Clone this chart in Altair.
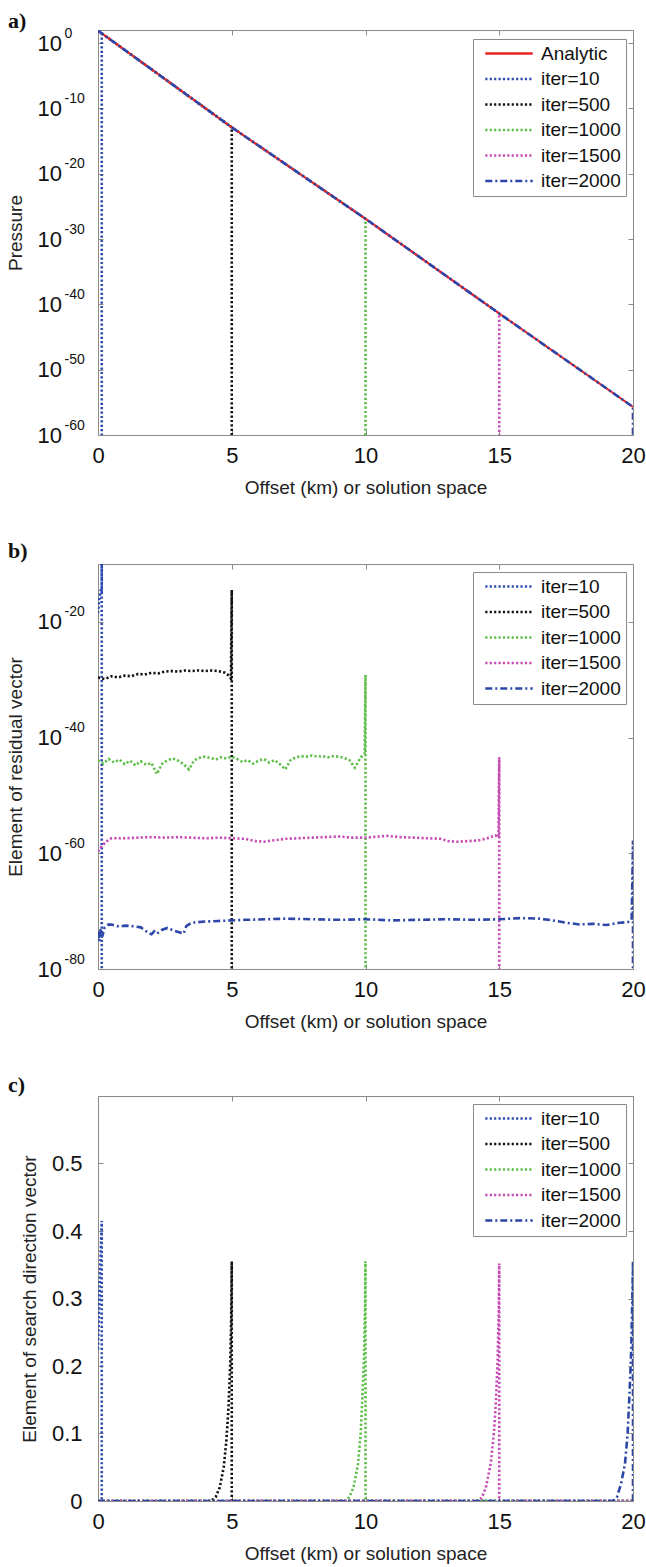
import altair as alt
import pandas as pd

FONT = "Liberation Sans"
SERIF = "Liberation Serif"

# ---------------- series styling ----------------
SERIES = ["Analytic", "iter=10", "iter=500", "iter=1000", "iter=1500", "iter=2000"]
COLORS = ["#E8231F", "#2E4BB0", "#111111", "#5CBF47", "#C64BB5", "#2C47A8"]
DASHES = [[1, 0], [2.2, 2.2], [2.2, 2.2], [2.2, 2.2], [2.2, 2.2], [7, 3, 2, 3]]
WIDTHS = [2.0, 2.6, 2.6, 2.6, 2.6, 2.6]

X_TICKS = [0, 5, 10, 15, 20]

# ---------------- panel a (log10 of pressure) ----------------
A_X = {
    "Analytic":  [0, 5, 10, 15, 20],
    "iter=10":   [0, 0.14, 0.14],
    "iter=500":  [0, 5, 5],
    "iter=1000": [0, 5, 10, 10],
    "iter=1500": [0, 5, 10, 15, 15],
    "iter=2000": [0, 5, 10, 15, 20, 20],
}
A_LOG = {
    "Analytic":  [1.9, -12.9, -26.9, -41.4, -55.7],
    "iter=10":   [1.9, 1.5, -90],
    "iter=500":  [1.9, -12.9, -90],
    "iter=1000": [1.9, -12.9, -26.9, -90],
    "iter=1500": [1.9, -12.9, -26.9, -41.4, -90],
    "iter=2000": [1.9, -12.9, -26.9, -41.4, -55.7, -90],
}
A_TICKS = [0, -10, -20, -30, -40, -50, -60]
A_DOMAIN = [-60, 2]

# ---------------- panel b (log10 of residual) ----------------
B_X = {
    "iter=10": [0, 0.05, 0.1, 0.14, 0.14, 0.14],
    "iter=500": [0, 0.25, 0.5, 0.75, 1.0, 1.25, 1.5, 1.75, 2.0, 2.25, 2.5, 2.75, 3.0, 3.25,
                 3.5, 3.75, 4.0, 4.25, 4.5, 4.75, 4.9, 4.97, 5.0, 5.0],
    "iter=1000": [0, 0.2, 0.4, 0.6, 0.8, 1.0, 1.2, 1.4, 1.6, 1.8, 2.0, 2.2, 2.4, 2.6, 2.8,
                  3.0, 3.2, 3.4, 3.6, 3.8, 4.0, 4.2, 4.4, 4.6, 4.8, 5.0, 5.2, 5.4, 5.6, 5.8,
                  6.0, 6.2, 6.4, 6.6, 6.8, 7.0, 7.2, 7.4, 7.6, 7.8, 8.0, 8.2, 8.4, 8.6, 8.8,
                  9.0, 9.2, 9.4, 9.6, 9.8, 9.9, 9.97, 10.0, 10.0],
    "iter=1500": [0, 0.1, 0.3, 0.5, 1.0, 1.5, 2.0, 2.5, 3.0, 3.5, 4.0, 4.5, 5.0, 5.5, 5.9, 6.2,
                  6.5, 7.0, 7.5, 8.0, 8.5, 9.0, 9.5, 10.0, 10.5, 10.8, 11.3, 11.8, 12.3, 12.8,
                  13.1, 13.4, 13.8, 14.2, 14.5, 14.85, 14.97, 15.0, 15.0],
    "iter=2000": [0, 0.05, 0.1, 0.15, 0.25, 0.4, 0.6, 0.8, 1.0, 1.3, 1.6, 1.9, 2.0, 2.1, 2.2,
                  2.4, 2.6, 2.8, 3.0, 3.2, 3.3, 3.5, 4.0, 4.5, 5.0, 5.5, 6.0, 7.0, 8.0, 9.0,
                  10.0, 11.0, 12.0, 13.0, 14.0, 15.0, 15.8, 16.5, 17.0, 17.5, 18.0, 18.5, 19.0,
                  19.5, 19.8, 19.95, 20.0, 20.0],
}
B_LOG = {
    "iter=10": [-18.5, -16.0, -14.6, -14.6, -5, -90],
    "iter=500": [-29.6, -29.9, -29.4, -29.6, -29.3, -29.4, -29.0, -29.1, -28.8, -28.9, -28.6,
                 -28.5, -28.6, -28.4, -28.5, -28.4, -28.5, -28.4, -28.5, -28.8, -29.3, -29.8,
                 -14.5, -90],
    "iter=1000": [-43.9, -44.5, -43.7, -44.3, -43.8, -44.6, -44.0, -44.8, -44.1, -44.7, -44.4,
                  -46.3, -44.5, -43.9, -43.6, -44.0, -44.6, -45.5, -43.9, -43.5, -43.3, -43.5,
                  -43.8, -43.4, -43.6, -43.3, -43.7, -44.2, -43.9, -44.5, -44.0, -43.7, -44.3,
                  -43.9, -44.6, -45.5, -43.9, -43.4, -43.2, -43.3, -43.1, -43.3, -43.2, -43.4,
                  -43.2, -43.3, -43.5, -43.9, -45.2, -43.6, -43.0, -42.7, -29.2, -90],
    "iter=1500": [-59.7, -59.0, -58.0, -57.4, -57.4, -57.3, -57.2, -57.3, -57.2, -57.3, -57.4,
                  -57.3, -57.4, -57.5, -57.9, -58.0, -57.8, -57.5, -57.4, -57.3, -57.2, -57.1,
                  -57.3, -57.3, -57.1, -57.0, -57.2, -57.3, -57.4, -57.5, -57.9, -58.0, -57.9,
                  -57.8, -57.5, -56.9, -57.2, -43.4, -90],
    "iter=2000": [-73.5, -75.2, -73.0, -74.5, -72.8, -72.3, -72.4, -72.7, -72.5, -72.6, -72.8,
                  -73.8, -74.0, -73.5, -73.9, -73.2, -72.9, -73.3, -73.6, -73.9, -72.6, -72.0,
                  -71.8, -71.7, -71.6, -71.5, -71.45, -71.3, -71.4, -71.5, -71.4, -71.6, -71.5,
                  -71.4, -71.5, -71.4, -71.2, -71.3, -71.6, -72.0, -72.3, -72.2, -72.4, -72.0,
                  -71.9, -71.5, -57.8, -90],
}
B_TICKS = [-20, -40, -60, -80]
B_DOMAIN = [-80, -10]

# ---------------- panel c (search direction, linear) ----------------
C_X = {
    "iter=10": [0, 0.07, 0.14, 0.14, 20],
    "iter=500": [0, 4.23, 4.4, 4.55, 4.7, 4.8, 4.88, 4.94, 4.98, 5.0, 5.0, 20],
    "iter=1000": [0, 9.25, 9.4, 9.55, 9.72, 9.82, 9.88, 9.94, 9.98, 10.0, 10.0, 20],
    "iter=1500": [0, 14.2, 14.35, 14.5, 14.68, 14.8, 14.88, 14.94, 14.98, 15.0, 15.0, 20],
    "iter=2000": [0, 19.24, 19.4, 19.55, 19.7, 19.8, 19.87, 19.93, 19.97, 20.0, 20.0],
}
C_Y = {
    "iter=10": [0.225, 0.33, 0.415, 0, 0],
    "iter=500": [0, 0, 0.006, 0.02, 0.05, 0.09, 0.14, 0.2, 0.27, 0.355, 0, 0],
    "iter=1000": [0, 0, 0.006, 0.02, 0.055, 0.1, 0.15, 0.21, 0.28, 0.355, 0, 0],
    "iter=1500": [0, 0, 0.005, 0.02, 0.055, 0.1, 0.15, 0.21, 0.28, 0.352, 0, 0],
    "iter=2000": [0, 0, 0.006, 0.025, 0.055, 0.1, 0.16, 0.22, 0.29, 0.355, 0],
}
C_TICKS = [0, 0.1, 0.2, 0.3, 0.4, 0.5]
C_DOMAIN = [0, 0.6]

PANEL_LABELS = ["a)", "b)", "c)"]
Y_TITLES = ["Pressure", "Element of residual vector", "Element of search direction vector"]
X_TITLE = "Offset (km) or solution space"

W, H = 535, 405


def frame(xd, yd, logy):
    rows = []
    for s in xd:
        for i, (x, y) in enumerate(zip(xd[s], yd[s])):
            rows.append({"series": s, "x": x, "y": (10.0 ** y) if logy else y, "i": i})
    return pd.DataFrame(rows)


def panel(df, names, logy, ydom, yticks, ytitle, label, label_dy, legend_y):
    idx = [SERIES.index(n) for n in names]
    colors = [COLORS[k] for k in idx]
    dashes = [DASHES[k] for k in idx]
    xs = alt.Scale(domain=[0, 20], nice=False, zero=False)
    if logy:
        ys = alt.Scale(type="log", domain=[10.0 ** ydom[0], 10.0 ** ydom[1]], nice=False)
        tick_vals = [10.0 ** e for e in yticks]
        lab_expr = "'10'"
        lab_align, lab_pad = "left", 61
        ext = [10.0 ** ydom[0], 10.0 ** ydom[1]]
    else:
        ys = alt.Scale(domain=ydom, nice=False, zero=False)
        tick_vals = yticks
        lab_expr = "datum.value == 0 ? '0' : format(datum.value, '.1f')"
        lab_align, lab_pad = "right", 16
        ext = ydom

    leg = alt.Legend(
        title=None, orient="none", legendX=375, legendY=legend_y,
        symbolType="stroke", symbolSize=2250, symbolStrokeWidth=2.5,
        labelFont=FONT, labelFontSize=19, labelColor="#111",
        strokeColor="#8a8a8a", fillColor="white", padding=5,
        rowPadding=5.5, labelOffset=7, symbolOffset=6, clipHeight=19,
    )

    ax_df = pd.DataFrame({"x": [0, 20], "y": ext})
    main_axes = alt.Chart(ax_df).mark_point(opacity=0, size=1).encode(
        x=alt.X("x:Q", scale=xs, axis=alt.Axis(
            values=X_TICKS, format="d", title=X_TITLE, labelFlush=False,
            offset=-5, tickSize=5, domain=False, grid=False,
            labelPadding=10, titlePadding=12)),
        y=alt.Y("y:Q", scale=ys, axis=alt.Axis(
            values=tick_vals, labelExpr=lab_expr, title=ytitle, labelFlush=False,
            offset=-5, tickSize=5, domain=False, grid=False,
            labelAlign=lab_align, labelPadding=lab_pad, titlePadding=12)),
    )
    other_axes = alt.Chart(ax_df).mark_point(opacity=0, size=1).encode(
        x=alt.X("x:Q", scale=xs, axis=alt.Axis(
            values=X_TICKS, orient="top", labels=False, title=None,
            offset=-5, tickSize=5, domain=False, grid=False, minExtent=0, maxExtent=0)),
        y=alt.Y("y:Q", scale=ys, axis=alt.Axis(
            values=tick_vals, orient="right", labels=False, title=None,
            offset=-5, tickSize=5, domain=False, grid=False, minExtent=0, maxExtent=0)),
    )
    layers = [main_axes, other_axes]
    if logy:
        # exponents of the 10^n labels, drawn as small raised text after the "10"
        exp_axis = alt.Chart(ax_df).mark_point(opacity=0, size=1).encode(
            x=alt.X("x:Q", scale=xs, axis=None),
            y=alt.Y("y:Q", scale=ys, axis=alt.Axis(
                values=tick_vals, orient="left", title=None, ticks=False, tickSize=0,
                domain=False, grid=False, offset=-5, labelFlush=False,
                labelExpr="'' + round(log(datum.value)/LN10)",
                labelAlign="left", labelPadding=39, labelFontSize=14,
                labelOffset=-10, minExtent=0)),
        )
        layers.append(exp_axis)

    lab = alt.Chart(pd.DataFrame({"t": [label]})).mark_text(
        font=SERIF, fontSize=22, fontWeight="bold", color="#111",
        align="left", baseline="alphabetic",
    ).encode(text="t:N", x=alt.value(-90), y=alt.value(label_dy))
    layers.append(lab)

    order = [n for n in names if n not in ("iter=2000", "Analytic")]
    if "Analytic" in names:
        order.append("Analytic")
    order.append("iter=2000")
    for n in order:
        k = SERIES.index(n)
        layers.append(
            alt.Chart(df[df.series == n]).mark_line(clip=True, strokeCap="butt").encode(
                x=alt.X("x:Q", scale=xs, axis=None),
                y=alt.Y("y:Q", scale=ys, axis=None),
                color=alt.Color("series:N", scale=alt.Scale(domain=names, range=colors), legend=leg),
                strokeDash=alt.StrokeDash("series:N", scale=alt.Scale(domain=names, range=dashes), legend=leg),
                strokeWidth=alt.value(WIDTHS[k]),
                order=alt.Order("i:Q"),
            )
        )
    return alt.layer(*layers).resolve_axis(x="independent", y="independent").properties(
        width=W, height=H)


df_a = frame(A_X, A_LOG, True)
df_b = frame(B_X, B_LOG, True)
df_c = frame(C_X, C_Y, False)

pa = panel(df_a, SERIES, True, A_DOMAIN, A_TICKS, Y_TITLES[0], PANEL_LABELS[0], -2, 9)
pb = panel(df_b, SERIES[1:], True, B_DOMAIN, B_TICKS, Y_TITLES[1], PANEL_LABELS[1], -6, 8)
pc = panel(df_c, SERIES[1:], False, C_DOMAIN, C_TICKS, Y_TITLES[2], PANEL_LABELS[2], -4.5, 8)

chart = alt.vconcat(pa, pb, pc, spacing=41).resolve_scale(
    color="independent", strokeDash="independent"
).resolve_legend(color="independent", strokeDash="independent").properties(
    padding={"left": 5, "top": 9, "right": 0, "bottom": 0}
).configure_view(stroke="#8a8a8a", strokeWidth=1).configure_axis(
    labelFont=FONT, titleFont=FONT, labelFontSize=22, titleFontSize=19,
    titleFontWeight="normal", labelColor="#111", titleColor="#222",
    tickColor="#8a8a8a", tickWidth=1,
)

chart.save("out.html", embed_options={"renderer": "svg", "actions": False})
